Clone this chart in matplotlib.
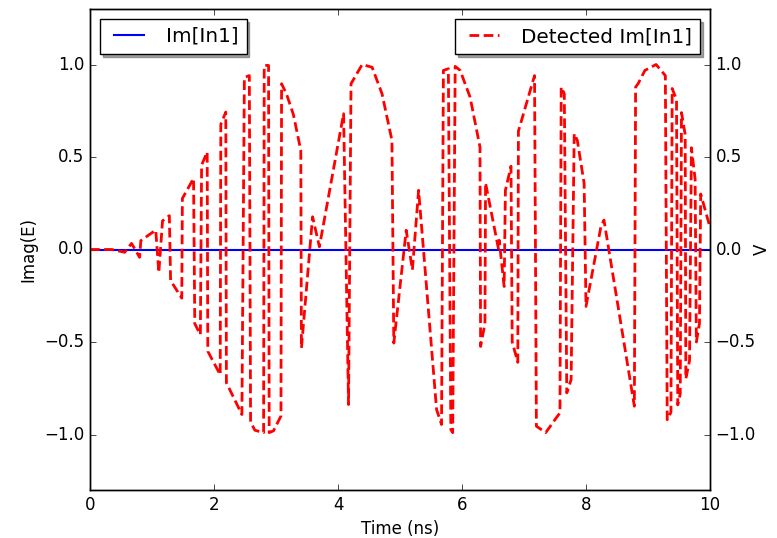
import matplotlib
matplotlib.use("Agg")
import matplotlib.pyplot as plt

plt.style.use("classic")
plt.rcParams["font.family"] = ["DejaVu Sans"]
plt.rcParams["lines.scale_dashes"] = False

# Input signal (imaginary part, flat zero)
in_time = [0.0, 10.0]
in_imag = [0.0, 0.0]

# Detected signal vertices
det_time = [0.00, 0.35, 0.56, 0.67, 0.80, 0.82, 1.06, 1.11, 1.17, 1.28,
            1.30, 1.48, 1.49, 1.67, 1.69, 1.78, 1.80, 1.89, 1.90, 2.10,
            2.11, 2.19, 2.20, 2.45, 2.49, 2.57, 2.59, 2.66, 2.80, 2.81,
            2.88, 2.89, 2.96, 3.08, 3.09, 3.17, 3.28, 3.40, 3.41, 3.59,
            3.70, 4.09, 4.17, 4.21, 4.39, 4.55, 4.71, 4.87, 4.90, 5.10,
            5.20, 5.30, 5.59, 5.67, 5.70, 5.78, 5.82, 5.85, 5.89, 5.97,
            6.13, 6.29, 6.30, 6.37, 6.38, 6.59, 6.60, 6.68, 6.70, 6.79,
            6.81, 6.90, 6.91, 7.17, 7.20, 7.35,
            7.52, 7.58, 7.60, 7.65, 7.69, 7.76, 7.81, 7.86, 7.97, 8.00,
            8.24, 8.29, 8.78, 8.80, 8.84, 8.95, 9.13, 9.28, 9.31, 9.37,
            9.39, 9.46, 9.48, 9.52, 9.54, 9.60, 9.61, 9.67, 9.70, 9.76,
            9.78, 9.83, 9.85, 10.00]
det_imag = [0.000, 0.000, -0.015, 0.033, -0.042, 0.048, 0.105, -0.125, 0.155, 0.183,
            -0.168, -0.263, 0.276, 0.384, -0.401, -0.460, 0.456, 0.527, -0.550, -0.677,
            0.677, 0.743, -0.720, -0.892, 0.930, 0.940, -0.933, -0.977, -0.990, 0.995,
            0.995, -0.990, -0.980, -0.900, 0.896, 0.840, 0.730, 0.536, -0.533, 0.177,
            0.015, 0.734, -0.838, 0.896, 1.000, 0.985, 0.842, 0.590, -0.506, 0.104,
            -0.110, 0.320, -0.865, -0.946, 0.968, 0.977, -0.973, -0.990, 0.990, 0.968,
            0.824, 0.554, -0.524, -0.400, 0.360, 0.000, 0.050, -0.200, 0.320, 0.450,
            -0.500, -0.610, 0.640, 0.940, -0.955, -0.990,
            -0.910, -0.883, 0.878, 0.842, -0.775, -0.703, 0.626, 0.590, 0.357, -0.308,
            0.123, 0.159, -0.847, 0.878, 0.896, 0.968, 1.000, 0.940, -0.920, -0.880,
            0.870, 0.810, -0.840, -0.780, 0.740, 0.620, -0.700, -0.600, 0.550, 0.380,
            -0.500, -0.400, 0.300, 0.120]

y_ticks = [-1.0, -0.5, 0.0, 0.5, 1.0]
x_ticks = [0, 2, 4, 6, 8, 10]

fig = plt.figure(figsize=(7.77, 5.38), dpi=100, facecolor="white")
ax = fig.add_axes([90 / 777, 48 / 538, 620 / 777, 481 / 538])
ax.set_facecolor("white")
ax.plot(in_time, in_imag, color="blue", lw=1.5, label="Im[In1]")
ax.set_xlim(0, 10)
ax.set_ylim(-1.3, 1.3)
ax.set_xticks(x_ticks)
ax.set_yticks(y_ticks)
ax.set_xlabel("Time (ns)", fontsize=12)
ax.set_ylabel("Imag(E)", fontsize=12)
ax.tick_params(labelsize=12)

ax2 = ax.twinx()
ax2.plot(det_time, det_imag, color="red", lw=2.0, dashes=(7, 3.2),
         label="Detected Im[In1]")
ax2.set_ylim(-1.3, 1.3)
ax2.set_yticks(y_ticks)
ax2.set_ylabel("V", fontsize=12, labelpad=-2)
ax2.tick_params(labelsize=12)

leg1 = ax.legend(loc="upper left", fontsize=14.4, shadow=True, fancybox=False,
                 handlelength=2.1, numpoints=2)
leg2 = ax2.legend(loc="upper right", fontsize=14.4, shadow=True, fancybox=False,
                  handlelength=2.1, numpoints=2)

fig.savefig("out.png", dpi=100, facecolor="white")
